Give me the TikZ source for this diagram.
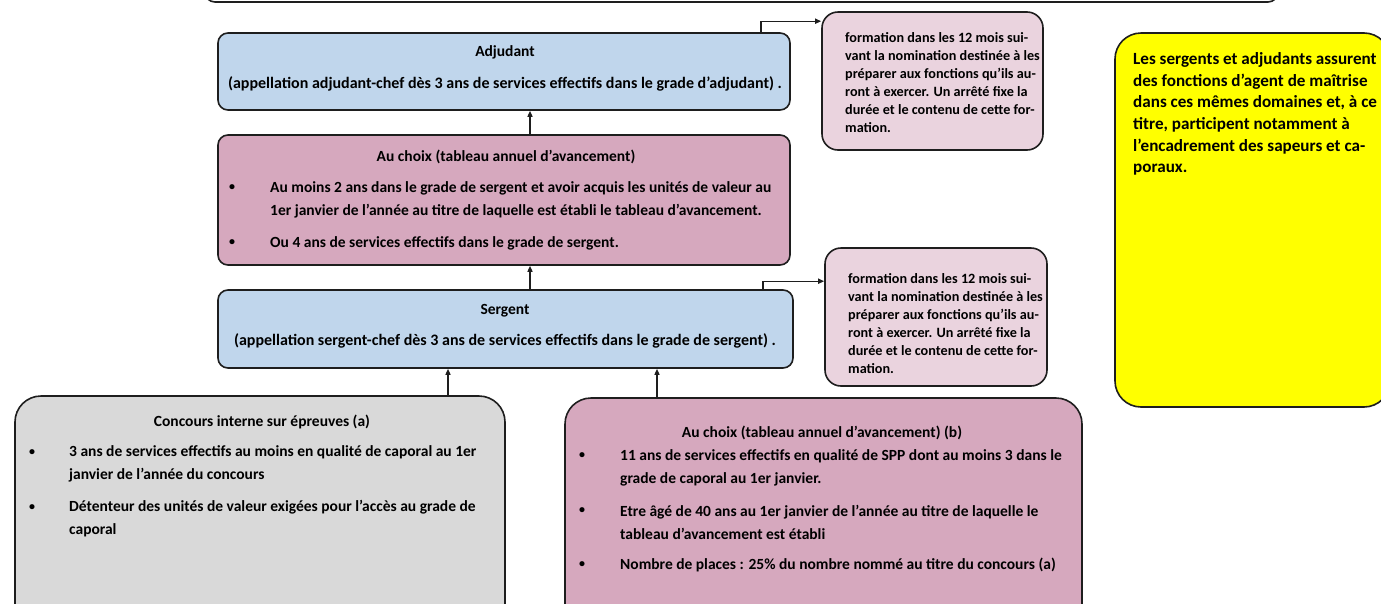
\documentclass[tikz,border=0pt]{standalone}
\usepackage{fontspec}
\setmainfont{Carlito}
\usetikzlibrary{arrows.meta}
\definecolor{edge}{RGB}{30,30,30}
\definecolor{bluebox}{RGB}{192,214,236}
\definecolor{mauve}{RGB}{214,168,190}
\definecolor{lightpink}{RGB}{234,211,222}
\definecolor{greybox}{RGB}{217,217,217}
\definecolor{yel}{RGB}{255,255,0}
\begin{document}
\begin{tikzpicture}[x=1pt,y=-1pt,
  box/.style={draw=edge, line width=1.6pt, inner sep=0pt, rounded corners=10pt},
  conn/.style={draw=edge, line width=1.4pt, -{Triangle[length=6pt,width=5pt]}},
  main/.style={inner sep=0pt, font=\bfseries\fontsize{15.5}{23}\selectfont, align=left},
  ttl/.style={inner sep=0pt, font=\bfseries\fontsize{15.5}{18}\selectfont},
  app/.style={inner sep=0pt, font=\bfseries\fontsize{16}{18}\selectfont},
  small/.style={inner sep=0pt, font=\bfseries\fontsize{14.2}{18}\selectfont, align=left},
  yt/.style={inner sep=0pt, font=\bfseries\fontsize{17.1}{21.6}\selectfont, align=left},
  bul/.style={inner sep=0pt, font=\bfseries\fontsize{12}{14}\selectfont}]
\useasboundingbox (0,0) rectangle (1381,603);
\clip (0,0) rectangle (1381,603);
\fill[white] (0,0) rectangle (1381,603);

% boxes
\node[box, fill=white, minimum width=1073pt, minimum height=40pt] (topbox) at (741.5,-18) {};
\node[box, fill=bluebox, minimum width=572pt, minimum height=77pt] (adj) at (504,71.5) {};
\node[box, fill=mauve, minimum width=572pt, minimum height=130pt] (choix) at (504,200) {};
\node[box, fill=bluebox, minimum width=575pt, minimum height=78pt] (sgt) at (505.5,329) {};
\node[box, fill=lightpink, rounded corners=16pt, minimum width=221pt, minimum height=138pt] (form1) at (932.5,81) {};
\node[box, fill=lightpink, rounded corners=16pt, minimum width=222pt, minimum height=138pt] (form2) at (936,317) {};
\node[box, fill=yel, rounded corners=26pt, minimum width=275pt, minimum height=374pt] (yelbox) at (1252.5,220) {};
\node[box, fill=greybox, rounded corners=26pt, minimum width=490pt, minimum height=244pt] (conc) at (260,518) {};
\node[box, fill=mauve, rounded corners=26pt, minimum width=517pt, minimum height=242pt] (choixb) at (823.5,519) {};

% texts: Adjudant
\node[ttl] (t1) at (505,52) {Adjudant};
\node[app] (t2) at (505,84) {(appellation adjudant-chef dès 3 ans de services effectifs dans le grade d’adjudant) .};
% Au choix
\node[ttl] (t3) at (506,157) {Au choix (tableau annuel d’avancement)};
\node[bul] (b1) at (232,188) {\textbullet};
\node[main, anchor=west] (t4) at (270,199.5) {Au moins 2 ans dans le grade de sergent et avoir acquis les unités de valeur au\\1er janvier de l’année au titre de laquelle est établi le tableau d’avancement.};
\node[bul] (b2) at (232,243) {\textbullet};
\node[main, anchor=west] (t5) at (270,243) {Ou 4 ans de services effectifs dans le grade de sergent.};
% Sergent
\node[ttl] (t6) at (505,311) {Sergent};
\node[app] (t7) at (505,341) {(appellation sergent-chef dès 3 ans de services effectifs dans le grade de sergent) .};
% formation boxes
\node[small, anchor=west] (f1) at (845,83) {formation dans les 12 mois sui-\\vant la nomination destinée à les\\préparer aux fonctions qu’ils au-\\ront à exercer. Un arrêté fixe la\\durée et le contenu de cette for-\\mation.};
\node[small, anchor=west] (f2) at (848,324) {formation dans les 12 mois sui-\\vant la nomination destinée à les\\préparer aux fonctions qu’ils au-\\ront à exercer. Un arrêté fixe la\\durée et le contenu de cette for-\\mation.};
% yellow
\node[yt, anchor=west] (y1) at (1133,114) {Les sergents et adjudants assurent\\des fonctions d'agent de maîtrise\\dans ces mêmes domaines et, à ce\\titre, participent notamment à\\l'encadrement des sapeurs et ca-\\poraux.};
% Concours
\node[ttl] (t8) at (262,422) {Concours interne sur épreuves (a)};
\node[bul] (b3) at (32,453) {\textbullet};
\node[main, anchor=west] (t9) at (69,464) {3 ans de services effectifs au moins en qualité de caporal au 1er\\janvier de l’année du concours};
\node[bul] (b4) at (32,508) {\textbullet};
\node[main, anchor=west] (t10) at (69,519) {Détenteur des unités de valeur exigées pour l’accès au grade de\\caporal};
% Au choix (b)
\node[ttl] (t11) at (822,433) {Au choix (tableau annuel d’avancement) (b)};
\node[bul] (b5) at (582,456) {\textbullet};
\node[main, anchor=west] (t12) at (620,467.5) {11 ans de services effectifs en qualité de SPP dont au moins 3 dans le\\grade de caporal au 1er janvier.};
\node[bul] (b6) at (582,511) {\textbullet};
\node[main, anchor=west] (t13) at (620,522.5) {Etre âgé de 40 ans au 1er janvier de l’année au titre de laquelle le\\tableau d’avancement est établi};
\node[bul] (b7) at (582,565) {\textbullet};
\node[main, anchor=west] (t14) at (620,565) {Nombre de places : 25\% du nombre nommé au titre du concours (a)};

% connectors
\coordinate (a1) at ([xshift=26pt]choix.north);
\draw[conn] (a1) -- (a1 |- adj.south);
\coordinate (a2) at (a1 |- sgt.north);
\draw[conn] (a2) -- (a2 |- choix.south);
\coordinate (c1) at ([xshift=188pt]conc.north);
\draw[conn] (c1) -- (c1 |- sgt.south);
\coordinate (c2) at ([xshift=-166.5pt]choixb.north);
\draw[conn] (c2) -- (c2 |- sgt.south);
\coordinate (k1) at ([xshift=-30pt]adj.north east);
\draw[conn] (k1) -- ++(0,-11) coordinate (k2) -- (k2 -| form1.west);
\coordinate (k3) at ([xshift=-31pt]sgt.north east);
\draw[conn] (k3) -- ++(0,-8) coordinate (k4) -- (k4 -| form2.west);
\end{tikzpicture}
\end{document}
